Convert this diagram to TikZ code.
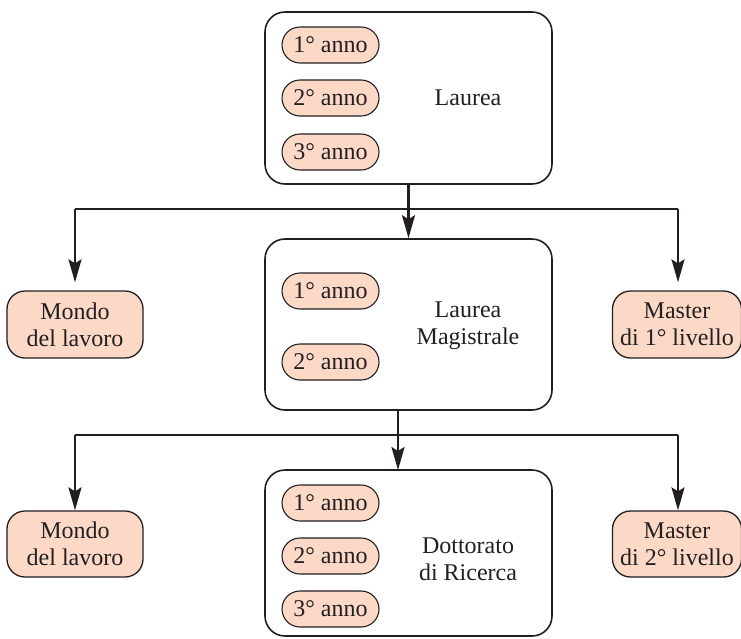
\documentclass[tikz,border=0pt]{standalone}
\usepackage{fontspec}
\setmainfont{Liberation Serif}
\newfontfamily\tms{Liberation Serif}
\usetikzlibrary{arrows.meta,calc}
\definecolor{pillfill}{RGB}{252,217,199}
\definecolor{ink}{RGB}{35,31,32}
\begin{document}
\begin{tikzpicture}[x=1pt,y=-1pt,
  every node/.style={font=\tms\fontsize{24}{27}\selectfont, text=ink, inner sep=0pt, align=center},
  bigbox/.style={draw=ink, line width=1.6pt, rounded corners=20pt, minimum width=287pt},
  pill/.style={draw=ink, line width=1.1pt, fill=pillfill, rounded corners=18pt, minimum width=97pt, minimum height=36pt},
  sidebox/.style={draw=ink, line width=1.3pt, fill=pillfill, rounded corners=18pt, minimum height=66pt},
  conn/.style={draw=ink, line width=2.2pt},
  arr/.style={conn, -{Stealth[length=23pt,width=13pt,inset=4pt]}}
]
\useasboundingbox (0,0) rectangle (741,638);

% big boxes
\node[bigbox, minimum height=172pt] (b1) at (408.5,98) {};
\node[bigbox, minimum height=171pt] (b2) at (408.5,324.5) {};
\node[bigbox, minimum height=166pt] (b3) at (408.5,553) {};

% pills
\node[pill] (p11) at (330.5,45) {1° anno};
\node[pill] (p12) at (330.5,98) {2° anno};
\node[pill] (p13) at (330.5,152) {3° anno};
\node[pill] (p21) at (330.5,291) {1° anno};
\node[pill] (p22) at (330.5,362) {2° anno};
\node[pill] (p31) at (330.5,503) {1° anno};
\node[pill] (p32) at (330.5,556) {2° anno};
\node[pill] (p33) at (330.5,609) {3° anno};

% labels
\node (l1) at (468,98) {Laurea};
\node (l2) at (468,326) {Laurea\\Magistrale};
\node (l3) at (468,559) {Dottorato\\di Ricerca};

% side boxes
\node[sidebox, minimum width=136pt, minimum height=67pt] (m1) at (75,324.5) {Mondo\\del lavoro};
\node[sidebox, minimum width=129pt, minimum height=67pt] (s1) at (677,324.5) {Master\\di 1° livello};
\node[sidebox, minimum width=136pt] (m2) at (75,544) {Mondo\\del lavoro};
\node[sidebox, minimum width=129pt] (s2) at (677,544) {Master\\di 2° livello};

% junction coordinates
\coordinate (j1) at (408.5,209);
\coordinate (j2) at (398,435);
\coordinate (bl1) at (75,209);
\coordinate (br1) at (678,209);
\coordinate (bl2) at (75,435);
\coordinate (br2) at (678,435);
\coordinate (t3) at (398,470);
\coordinate (o2) at (398,410);

% connectors level 1
\draw[arr] (b1.south) -- (b2.north);
\draw[conn] (bl1) -- (br1);
\draw[arr, shorten >=8pt] (bl1) -- (bl1 |- m1.north);
\draw[arr, shorten >=8pt] (br1) -- (br1 |- s1.north);

% connectors level 2
\draw[arr] (o2) -- (t3);
\draw[conn] (bl2) -- (br2);
\draw[arr] (bl2) -- (bl2 |- m2.north);
\draw[arr] (br2) -- (br2 |- s2.north);
\end{tikzpicture}
\end{document}
